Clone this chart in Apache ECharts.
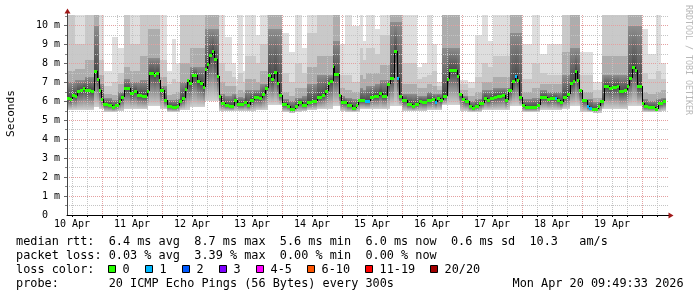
<!DOCTYPE html>
<html><head><meta charset="utf-8">
<script src="https://cdn.jsdelivr.net/npm/echarts@6/dist/echarts.min.js"></script>
<style>html,body{margin:0;padding:0;background:#fff}#c{width:697px;height:297px}</style>
</head><body><div id="c"></div>
<script>
// ---------- data (time in hours since 10 Apr 00:00, values in ms) ----------
const dayTicks  = [0, 24, 48, 72, 96, 120, 144, 168, 192, 216];
const dayLabels = ['10 Apr','11 Apr','12 Apr','13 Apr','14 Apr','15 Apr','16 Apr','17 Apr','18 Apr','19 Apr'];
const yTicks    = [0,1,2,3,4,5,6,7,8,9,10];

const medianT = [-2,-0.8,0,1.2,2,3.2,4.4,5.2,6.8,7.6,
 8.8,10,10.8,11.6,12.4,14.4,16,17.2,18.8,19.6,
 20.8,23.2,24.8,26,28,30,30.8,32.8,33.6,34.8,
 35.2,36.8,38,40,42,42.8,44,45.2,46,46.8,
 48,50,51.2,52.4,53.2,54,54.8,56,56.8,58,
 58.8,59.6,61.2,62.8,64.8,66,68.8,70,71.2,72.8,
 74.8,76,77.2,78.4,79.6,80.8,82,82.8,84,86,
 87.2,89.2,90.4,92,94,96,98,100,101.2,102.4,
 103.2,104.4,104.8,106.8,107.6,110,112,113.6,114.4,117.2,
 119.2,120.8,122.8,124,126,127.2,128.8,130,130.8,132,
 134,136,137.2,138.8,140,142,144,145.2,146,147.2,
 148.4,150,150.8,154,154.8,156,157.2,158.8,160,161.2,
 162.8,164.8,166,167.2,168.8,170,172,173.2,174.4,176,
 177.2,178,178.8,180,181.2,183.2,186,187.2,190,191.2,
 193.2,194,195.2,196.4,198,199.2,200.4,201.2,202,202.8,
 204,206,206.8,208,210.4,211.2,212.8,214.8,216,218,
 218.8,220.8,222,222.8,224,225.2,226,226.8,228,228.8,
 230.4,233.2,234.4,236.4];
const medianV = [6.17,6.12,6.35,6.26,6.52,6.61,6.70,6.58,6.61,6.52,
 7.58,7.18,6.58,6.12,5.86,5.79,5.70,5.79,6.00,6.23,
 6.68,6.44,6.52,6.35,6.26,6.52,7.49,7.40,7.49,7.14,
 6.61,6.05,5.73,5.68,5.73,6.00,6.20,6.65,7.10,6.97,
 7.40,7.05,6.97,6.75,7.70,7.97,8.46,8.63,8.25,7.35,
 6.30,5.91,5.79,5.73,6.05,5.87,5.96,5.82,6.05,6.23,
 6.17,6.40,6.70,7.40,7.18,7.53,6.97,6.35,5.86,5.73,
 5.61,5.73,5.94,5.82,5.94,6.00,6.23,6.35,6.56,6.97,
 7.09,7.84,7.44,6.31,5.94,5.82,5.65,5.82,6.08,6.00,
 6.23,6.26,6.44,6.30,6.93,7.23,8.63,7.23,6.26,6.05,
 5.86,5.73,5.86,6.03,5.97,6.05,6.12,5.94,6.17,6.08,
 6.30,7.18,7.63,7.31,6.40,6.12,6.00,5.73,5.65,5.73,
 5.91,6.17,6.08,6.20,6.23,6.26,6.35,6.08,6.58,7.05,
 7.35,7.10,6.23,5.82,5.70,5.68,5.82,6.23,6.12,6.17,
 6.17,6.08,5.94,6.23,6.40,6.97,7.05,7.58,7.14,6.61,
 6.05,5.73,5.65,5.59,5.73,6.00,6.79,6.70,6.75,6.79,
 6.56,6.61,6.82,7.23,7.79,7.63,6.82,6.79,5.91,5.73,
 5.68,5.61,5.91,6.00];
const dataEnd = 237.6;
// segments with lost pings (start time, number lost of 20)
const lossT     = [117.2, 130, 145.2, 177.2, 193.2, 206, 206.8];
const lossCount = [1, 1, 1, 1, 1, 1, 1];

// smoke: bottom of smoke, then tops of the upper shading bands (dark -> light)
const smokeT = [-2,1.3,5.3,8.9,10.9,12.9,16.1,18.5,20.9,23.3,
 27.3,30.5,35.3,38.1,40.1,41.7,43.3,47.3,53.3,58.9,
 61.3,64.1,65.7,66.5,68.5,69.3,73.7,75.3,78.5,84.1,
 86.9,89.3,92.1,94.1,98.1,104.5,107.3,109.3,112.1,115.3,
 116.5,117.7,121.3,123.3,127.3,132.1,138.1,140.1,142.1,144.1,
 146.1,148.1,155.3,158.5,161.3,164.1,166.5,168.5,175.3,180.1,
 184.1,187.3,190.1,196.1,199.3,203.3,208.5,212.1,222.5,228.1,
 230.5,233.7,235.7];
const smokeLo = [5.55,5.55,5.55,5.7,5.6,5.45,5.42,5.5,5.6,5.6,
 5.6,5.75,5.6,5.45,5.42,5.45,5.55,5.7,6.0,5.5,
 5.5,5.5,5.5,5.5,5.5,5.5,5.55,5.55,5.8,5.45,
 5.4,5.45,5.5,5.55,5.6,5.75,5.5,5.45,5.45,5.6,
 5.6,5.6,5.6,5.6,5.75,5.5,5.5,5.5,5.55,5.55,
 5.55,5.8,5.5,5.42,5.45,5.55,5.55,5.55,5.75,5.45,
 5.45,5.55,5.55,5.6,5.75,5.45,5.4,5.6,5.75,5.45,
 5.45,5.45,5.5];
const smokeA = [7.0,7.1,7.3,10.0,6.9,6.15,6.05,6.5,7.2,7.0,
 7.1,8.3,6.8,6.05,6.05,6.1,7.0,7.8,9.8,6.4,
 6.3,6.4,6.2,6.25,6.2,6.6,6.6,6.9,9.8,6.1,
 6.0,6.2,6.3,6.9,7.4,9.2,6.3,6.2,6.1,6.7,
 6.6,6.8,6.9,7.1,10.2,6.4,6.3,6.3,6.5,6.4,
 6.4,8.8,6.3,6.0,6.1,6.6,6.6,6.7,9.6,6.1,
 6.2,6.6,6.5,7.4,8.8,6.1,5.95,7.4,10.0,6.1,
 6.0,6.1,6.2];
const smokeB = [7.6,7.7,8.2,10.6,7.4,6.4,6.35,6.9,7.8,7.6,
 8.4,9.8,7.3,6.35,6.4,6.5,8.0,8.8,10.6,7.0,
 6.8,6.8,6.4,6.6,6.5,7.2,7.0,7.6,10.6,6.5,
 6.3,6.7,6.7,7.8,8.4,10.6,6.7,6.6,6.5,7.4,
 7.2,7.5,7.5,7.9,10.6,6.9,6.7,6.7,6.9,6.8,
 6.6,10.6,6.6,6.3,6.5,7.0,7.0,7.3,10.6,6.5,
 6.7,6.9,6.9,8.6,10.6,6.5,6.2,8.4,10.6,6.5,
 6.4,6.5,6.6];
const smokeC = [10.6,9.0,10.6,10.6,8.2,6.8,7.0,7.5,10.6,9.0,
 10.6,10.6,8.2,6.9,7.2,7.0,10.6,10.6,10.6,8.0,
 7.6,7.3,6.8,7.5,7.0,8.4,8.0,9.0,10.6,7.5,
 7.0,8.0,7.5,9.6,10.6,10.6,7.4,7.4,7.0,8.8,
 8.2,8.8,8.5,9.5,10.6,8.0,7.2,7.3,7.4,7.6,
 6.8,10.6,6.9,6.7,7.3,8.0,7.8,8.4,10.6,7.2,
 8.0,7.5,7.4,10.6,10.6,7.4,6.6,10.6,10.6,7.5,
 7.2,7.6,7.2];
const smokeD = [10.6,10.6,10.6,10.6,10.6,7.6,9.4,8.8,10.6,10.6,
 10.6,10.6,10.6,7.6,9.3,8.0,10.6,10.6,10.6,10.6,
 9.4,8.0,7.2,10.6,7.6,10.6,9.5,10.6,10.6,9.6,
 8.6,10.6,8.8,10.6,10.6,10.6,9.0,10.6,10.0,10.6,
 9.2,10.6,9.8,10.6,10.6,10.6,7.8,8.0,10.6,9.0,
 7.0,10.6,7.1,7.0,9.5,10.6,9.2,10.6,10.6,9.0,
 10.6,8.5,9.0,10.6,10.6,8.6,7.0,10.6,10.6,9.8,
 8.5,10.6,8.0];

const lossLabels = ['0','1','2','3','4-5','6-10','11-19','20/20'];
const lossColors = ['#26ff00','#00b8ff','#0059ff','#7e00ff','#ff00ff','#ff5500','#ff0000','#a10000'];
const statLines = [
 'median rtt:  6.4 ms avg  8.7 ms max  5.6 ms min  6.0 ms now  0.6 ms sd  10.3   am/s',
 'packet loss: 0.03 % avg  3.39 % max  0.00 % min  0.00 % now',
 'loss color:',
 'probe:       20 ICMP Echo Pings (56 Bytes) every 300s'
];
const stampText = 'Mon Apr 20 09:49:33 2026';

// ---------- build tables ----------
const X_MIN = -2, X_MAX = 238.4, Y_MAX = 200 / 18.95;
const MONO = '"DejaVu Sans Mono", monospace';
function lastIdx(arr, t) { let k = 0; for (let i = 0; i < arr.length; i++) if (arr[i] <= t + 1e-9) k = i; return k; }
function lossColor(n) {
  if (n <= 0) return lossColors[0]; if (n === 1) return lossColors[1]; if (n === 2) return lossColors[2];
  if (n === 3) return lossColors[3]; if (n <= 5) return lossColors[4]; if (n <= 10) return lossColors[5];
  if (n <= 19) return lossColors[6]; return lossColors[7];
}
const cuts = Array.from(new Set(medianT.concat(smokeT, [dataEnd]))).sort((p, q) => p - q);
const smokeRows = [];
for (let k = 0; k < cuts.length - 1; k++) {
  const t0 = cuts[k], t1 = cuts[k + 1];
  const mi = lastIdx(medianT, t0), si = lastIdx(smokeT, t0);
  smokeRows.push([t0, t1, smokeLo[si], medianV[mi], smokeA[si], smokeB[si], smokeC[si], smokeD[si]]);
}
const medianRows = medianT.map((t, i) => {
  const li = lossT.indexOf(t);
  return [t, i + 1 < medianT.length ? medianT[i + 1] : dataEnd, medianV[i], li >= 0 ? lossCount[li] : 0, i > 0 ? medianV[i - 1] : medianV[i]];
});

const minorX = [], majorX = [], minorY = [], majorY = [];
for (let h = 0; h <= X_MAX; h += 6) (h % 24 === 12 ? majorX : minorX).push(h);
for (let v = 0.5; v <= Y_MAX; v += 1) minorY.push(v);
for (let v = 1; v <= 10; v += 1) majorY.push(v);

const G = echarts.graphic;
const gradLow = () => new G.LinearGradient(0, 0, 0, 1, [{offset: 0, color: '#474747'}, {offset: 1, color: '#d2d2d2'}]);
const gradA = () => new G.LinearGradient(0, 0, 0, 1, [{offset: 0, color: '#8e8e8e'}, {offset: 1, color: '#4a4a4a'}]);

function renderSmoke(params, api) {
  const cs = params.coordSys;
  const clipBox = {x: cs.x, y: cs.y, width: cs.width, height: cs.height};
  const t0 = api.value(0), t1 = api.value(1);
  const lv = [api.value(2), api.value(3), api.value(4), api.value(5), api.value(6), api.value(7)];
  lv[0] = Math.min(lv[0], lv[1]);
  for (let i = 2; i < lv.length; i++) lv[i] = Math.max(lv[i], lv[i - 1]);
  const fills = [gradLow(), gradA(), '#adadad', '#c9c9c9', '#dedede'];
  const children = [];
  const xa = Math.round(api.coord([t0, 0])[0]), xb = Math.round(api.coord([t1, 0])[0]);
  for (let i = 0; i < 5; i++) {
    if (lv[i + 1] <= lv[i]) continue;
    const yb = Math.round(api.coord([t0, lv[i]])[1]), yt = Math.round(api.coord([t0, lv[i + 1]])[1]);
    const r = G.clipRectByRect({x: xa, y: yt, width: xb - xa, height: yb - yt}, clipBox);
    if (r && r.height > 0) children.push({type: 'rect', shape: r, style: {fill: fills[i]}});
  }
  return {type: 'group', children};
}
function renderMedian(params, api) {
  const t0 = api.value(0), t1 = api.value(1), v = api.value(2), n = api.value(3), vp = api.value(4);
  const p0 = api.coord([t0, v]), p1 = api.coord([t1, v]), pp = api.coord([t0, vp]);
  const xa = Math.round(p0[0]), xb = Math.round(p1[0]);
  const y = Math.round(p0[1]), yp = Math.round(pp[1]);
  const children = [];
  if (yp !== y) children.push({type: 'line', shape: {x1: xa + 0.5, y1: yp, x2: xa + 0.5, y2: y}, style: {stroke: '#000', lineWidth: 1}});
  children.push({type: 'rect', shape: {x: xa, y: y - 1, width: Math.max(1, xb - xa), height: 3}, style: {fill: lossColor(n)}});
  return {type: 'group', children};
}

// ---------- legend graphics ----------
const graphics = [];
const lineY = [241.5, 255.5, 269.5, 283.5];
statLines.forEach((s, i) => graphics.push({type: 'text', x: 16, y: lineY[i],
  style: {text: s, font: '11.85px ' + MONO, fill: '#000', align: 'left', verticalAlign: 'middle'}}));
graphics.push({type: 'text', x: 512.5, y: lineY[3], style: {text: stampText, font: '11.85px ' + MONO, fill: '#000', align: 'left', verticalAlign: 'middle'}});
let sx = 108.5;
lossLabels.forEach((lab, i) => {
  graphics.push({type: 'rect', shape: {x: sx, y: 265.5, width: 7, height: 7}, style: {fill: lossColors[i], stroke: '#000', lineWidth: 1}});
  graphics.push({type: 'text', x: sx + 14, y: lineY[2], style: {text: lab, font: '11.85px ' + MONO, fill: '#000', align: 'left', verticalAlign: 'middle'}});
  sx += 15 + lab.length * 7 + 15;
});
graphics.push({type: 'text', x: 11, y: 113.5, rotation: Math.PI / 2,
  style: {text: 'Seconds', font: '11.1px ' + MONO, fill: '#000', align: 'center', verticalAlign: 'middle'}});
graphics.push({type: 'text', x: 688.5, y: 60, rotation: -Math.PI / 2,
  style: {text: 'RRDTOOL / TOBI OETIKER', font: '8.3px ' + MONO, fill: '#b8b8b8', align: 'center', verticalAlign: 'middle'}});
graphics.push({type: 'line', shape: {x1: 67.5, y1: 15, x2: 67.5, y2: 12}, style: {stroke: '#444', lineWidth: 1}});
graphics.push({type: 'polygon', shape: {points: [[64.5, 13.5], [70.5, 13.5], [67.5, 8.5]]}, style: {fill: '#a01818'}});
graphics.push({type: 'line', shape: {x1: 668, y1: 215.5, x2: 670, y2: 215.5}, style: {stroke: '#000', lineWidth: 1}});
graphics.push({type: 'polygon', shape: {points: [[668.5, 212.5], [668.5, 218.5], [673.5, 215.5]]}, style: {fill: '#a01818'}});

const gridMinor = {color: '#c4c4c4', type: [1, 1], width: 1};
const gridMajor = {color: '#e4a0a0', type: [1, 1], width: 1};
const axisFont = {fontFamily: MONO, fontSize: 10, color: '#000'};

const chart = echarts.init(document.getElementById('c'), null, {renderer: 'canvas'});
chart.setOption({
  animation: false,
  backgroundColor: '#fff',
  grid: {left: 67, top: 15, width: 601, height: 200, containLabel: false},
  xAxis: [
    {type: 'value', min: X_MIN, max: X_MAX, z: 3,
     axisLine: {show: true, onZero: false, lineStyle: {color: '#000', width: 1}},
     axisTick: {show: true, length: 2, customValues: minorX, lineStyle: {color: '#000'}},
     axisLabel: Object.assign({customValues: dayTicks, margin: 4,
       formatter: v => dayLabels[dayTicks.indexOf(v)] || ''}, axisFont),
     splitLine: {show: true, lineStyle: gridMinor}},
    {type: 'value', min: X_MIN, max: X_MAX, position: 'bottom', z: 3,
     axisLine: {show: false, onZero: false}, axisLabel: {show: false},
     axisTick: {show: true, length: 3, customValues: majorX, lineStyle: {color: '#000'}},
     splitLine: {show: true, lineStyle: gridMajor}}
  ],
  yAxis: [
    {type: 'value', min: 0, max: Y_MAX, z: 3,
     axisLine: {show: true, onZero: false, lineStyle: {color: '#444', width: 1}},
     axisTick: {show: true, length: 3, customValues: majorY, lineStyle: {color: '#666'}},
     axisLabel: Object.assign({customValues: yTicks, margin: 7,
       formatter: v => (v === 0 ? '0  ' : v + ' m')}, axisFont),
     splitLine: {show: true, lineStyle: gridMajor}},
    {type: 'value', min: 0, max: Y_MAX, position: 'left', z: 3,
     axisLine: {show: false, onZero: false}, axisLabel: {show: false},
     axisTick: {show: true, length: 2, customValues: minorY, lineStyle: {color: '#888'}},
     splitLine: {show: true, lineStyle: gridMinor}}
  ],
  series: [
    {type: 'custom', name: 'smoke', z: 1, xAxisIndex: 0, yAxisIndex: 0, data: smokeRows, renderItem: renderSmoke, silent: true},
    {type: 'custom', name: 'median', z: 6, xAxisIndex: 0, yAxisIndex: 0, data: medianRows, renderItem: renderMedian, silent: true}
  ],
  graphic: graphics
});
</script></body></html>
